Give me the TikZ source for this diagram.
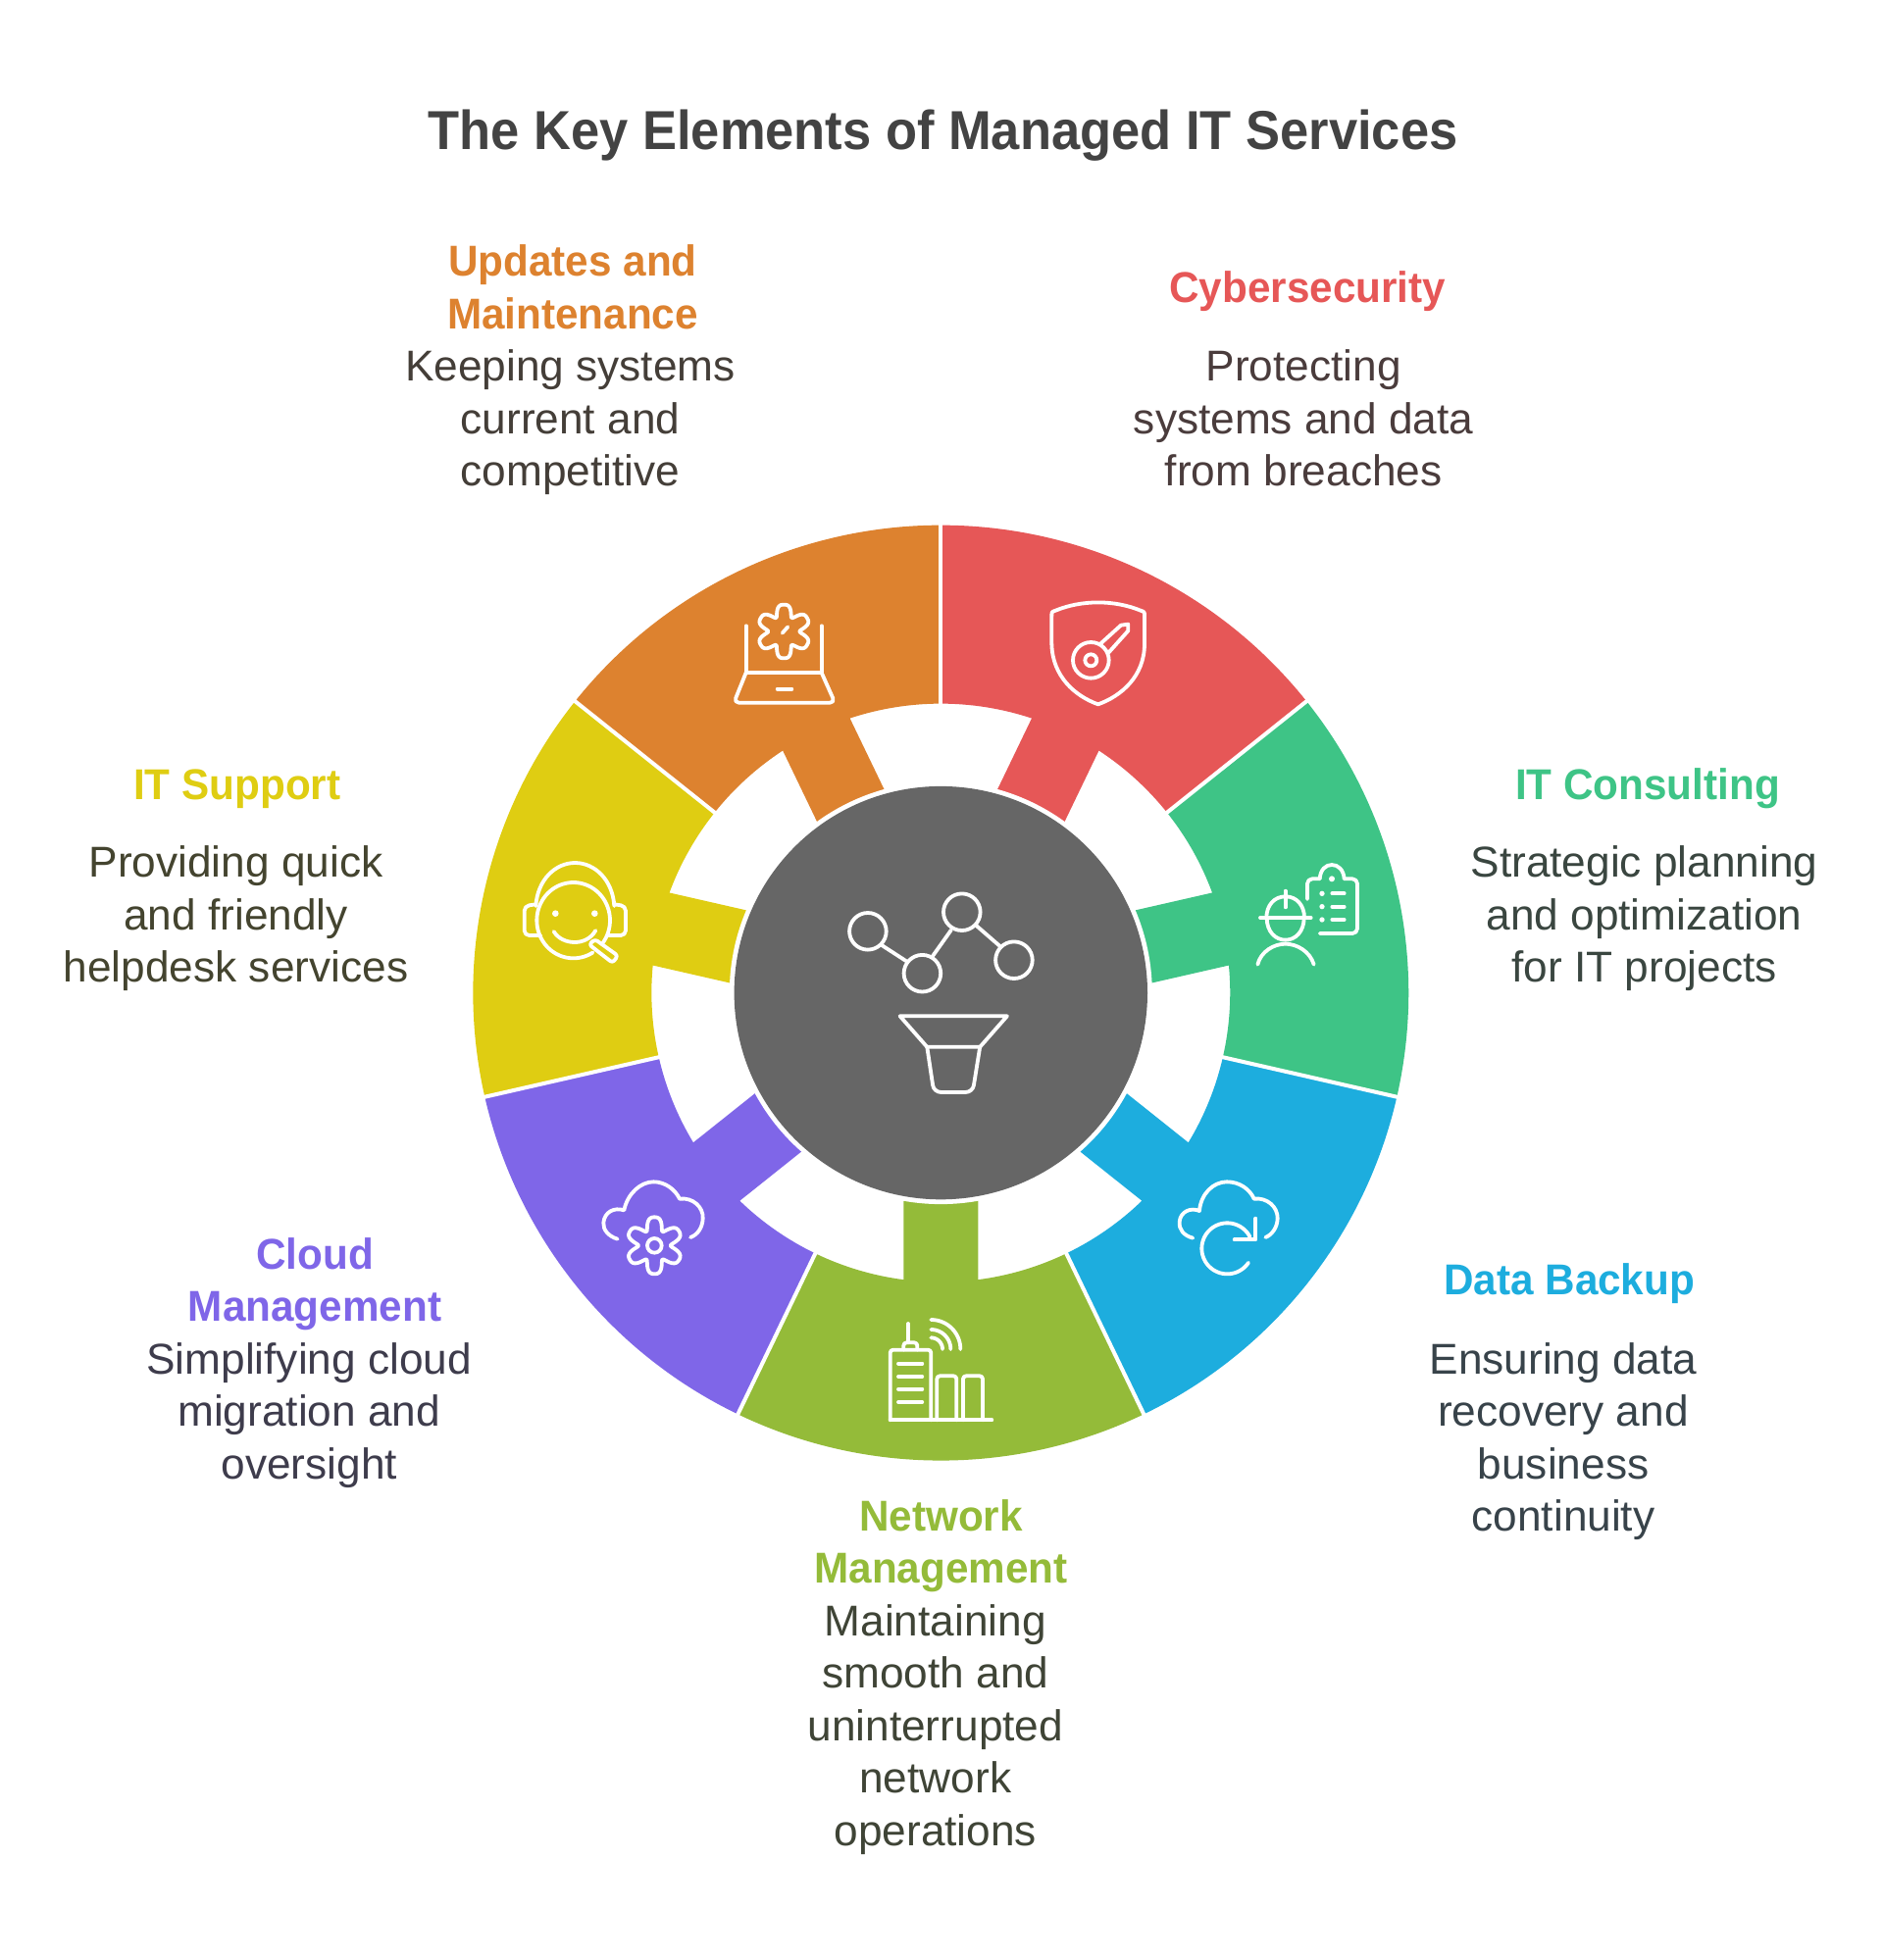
\documentclass[tikz,border=0pt]{standalone}
\usepackage{fontspec}
\setmainfont{Liberation Sans}[FakeStretch=1.005,BoldFeatures={FakeStretch=0.96}]
\newfontface\titlefont{Liberation Sans Bold}[FakeStretch=0.937]
\definecolor{cred}{HTML}{E65757}
\definecolor{cgreen}{HTML}{3EC486}
\definecolor{cblue}{HTML}{1DADDE}
\definecolor{colive}{HTML}{94BB39}
\definecolor{cpurple}{HTML}{7F66E8}
\definecolor{cyellow}{HTML}{DFCD12}
\definecolor{corange}{HTML}{DD822F}
\definecolor{cgray}{HTML}{666666}
\definecolor{ctitle}{HTML}{434343}
\definecolor{tred}{HTML}{4A3C3C}
\definecolor{tgreen}{HTML}{3A4640}
\definecolor{tblue}{HTML}{38434A}
\definecolor{tolive}{HTML}{3F4436}
\definecolor{tpurple}{HTML}{3E3C4C}
\definecolor{tyellow}{HTML}{44442F}
\definecolor{torange}{HTML}{443E38}
\newcommand{\firstline}{\rule{0pt}{40pt}}
\tikzset{
  iconline/.style={draw=white,line width=3.8pt,line cap=round,line join=round},
  iconzoom/.style={x=0.33333pt,y=-0.33333pt},
  heading/.style={anchor=north,align=center,inner sep=0pt,font=\fontsize{44}{53.5}\selectfont\bfseries},
  bodytext/.style={anchor=north,align=center,inner sep=0pt,font=\fontsize{44}{53.5}\selectfont},
}
\begin{document}
\begin{tikzpicture}[x=1pt,y=-1pt]
\useasboundingbox (0,0) rectangle (1919,1999);
\fill[white] (0,0) rectangle (1919,1999);

% title
\node[anchor=base,inner sep=0pt,text=ctitle,font=\fontsize{56}{60}\selectfont\titlefont] (title) at (961.5,152.7) {The Key Elements of Managed IT Services};

% wheel
\begin{scope}[shift={(959.3,1012.6)},y=1pt]
  \foreach \m/\c in {64.286/cred,12.857/cgreen,-38.571/cblue,-90/colive,-141.429/cpurple,-192.857/cyellow,115.714/corange}{
    \fill[\c,rotate=\m] (-25.714:477) arc[start angle=-25.714,end angle=25.714,radius=477]
      -- (25.714:295) arc[start angle=25.714,end angle=7.4,radius=295]
      -- (200,38) -- (200,-38) -- (-7.4:295)
      arc[start angle=-7.4,end angle=-25.714,radius=295] -- cycle;
  }
  \foreach \a in {90,38.571,-12.857,-64.286,-115.714,-167.143,-218.571}{
    \draw[white,line width=4pt] (\a:292) -- (\a:482);
  }
  \fill[white] (0,0) circle[radius=215.5];
  \fill[cgray] (0,0) circle[radius=210.7];
\end{scope}

% central icon
\foreach \x/\y in {884.9/949.8,940.4/992.7,980.8/930.2,1033.9/979.2}{
  \draw[iconline] (\x,\y) circle[radius=18.8];
}
\draw[iconline] (899.2,964.1) -- (923.7,980);
\draw[iconline] (951,975.1) -- (969.8,948.6);
\draw[iconline] (995.1,943.7) -- (1020.4,965.7);
\draw[iconline] (917.6,1036.3) -- (1026.9,1036.3) -- (999.2,1067.8) -- (945.3,1067.8) -- cycle;
\draw[iconline,rounded corners=7pt] (945.3,1067.8) -- (952.2,1113.9) -- (991.8,1113.9) -- (999.2,1067.8);

% orange: laptop + gear
\begin{scope}[shift={(730,600)},iconzoom]
  \draw[iconline] (92,115) -- (92,258) -- (323,258) -- (323,115);
  \draw[iconline,rounded corners=5pt] (92,258) -- (55,350) -- (364,350) -- (323,258);
  \draw[iconline] (188,308) -- (232,308);
  \draw[iconline] (203,137) -- (220,118);
  \draw[iconline] plot[domain=0:360,samples=121,smooth] ({208+(69+17*cos(6*\x)-4*cos(12*\x))*sin(\x)},{132+(69+17*cos(6*\x)-4*cos(12*\x))*cos(\x)}) -- cycle;
\end{scope}

% red: shield + key
\begin{scope}[shift={(1053,600)},iconzoom]
  \draw[iconline] (58,85) .. controls (58,72) .. (70,68) .. controls (150,35) and (250,35) .. (330,68) .. controls (342,72) .. (342,85) -- (342,170) .. controls (342,270) and (270,330) .. (200,355) .. controls (130,330) and (60,270) .. (58,170) -- cycle;
  \draw[iconline] (178,220) circle[radius=55];
  \draw[iconline] (178,220) circle[radius=18];
  \draw[iconline] (207,170) -- (270,113) -- (292,110) -- (292,130) -- (232,197);
\end{scope}

% green: clipboard + person
\begin{scope}[shift={(1269,867)},iconzoom]
  \draw[iconline,rounded corners=5pt] (192,150) -- (192,88) -- (230,88);
  \draw[iconline] (230,88) .. controls (232,60) and (248,45) .. (267,45) .. controls (286,45) and (303,60) .. (305,88);
  \draw[iconline,rounded corners=5pt] (305,88) -- (345,88) -- (345,255) -- (230,255);
  \fill[white] (267,88) circle[radius=9];
  \foreach \y in {133,173,213}{
    \fill[white] (237,\y) circle[radius=8];
    \draw[iconline] (268,\y) -- (305,\y);
  }
  \draw[iconline] (48,207) -- (203,207);
  \draw[iconline] (67,207) .. controls (67,170) and (90,142) .. (125,142) .. controls (160,142) and (183,170) .. (183,207);
  \draw[iconline] (125,125) -- (125,175);
  \draw[iconline] (68,207) .. controls (68,250) and (95,275) .. (125,275) .. controls (155,275) and (182,250) .. (182,207);
  \draw[iconline] (40,350) .. controls (50,310) and (90,287) .. (125,287) .. controls (160,287) and (200,310) .. (212,350);
\end{scope}

% blue: cloud + refresh
\begin{scope}[shift={(1187,1186)},iconzoom]
  \draw[iconline] (88,230) .. controls (60,222) and (45,205) .. (47,180) .. controls (50,150) and (80,135) .. (108,147) .. controls (112,95) and (150,58) .. (192,58) .. controls (230,58) and (262,80) .. (275,110) .. controls (315,105) and (348,135) .. (347,170) .. controls (346,198) and (330,220) .. (310,228);
  \draw[iconline] plot[domain=33.7:333,samples=60,smooth] ({193+78*cos(\x)},{262+78*sin(\x)});
  \draw[iconline] (215,235) -- (280,235) -- (280,170);
\end{scope}

% olive: building + wifi
\begin{scope}[shift={(892,1330)},iconzoom]
  \draw[iconline,rounded corners=3pt] (47,355) -- (47,140) -- (172,140) -- (172,355);
  \draw[iconline] (47,355) -- (358,355);
  \draw[iconline,rounded corners=3pt] (88,140) -- (88,118) -- (130,118) -- (130,140);
  \draw[iconline] (102,60) -- (102,118);
  \foreach \y in {182,222,260,300}{ \draw[iconline] (72,\y) -- (145,\y); }
  \draw[iconline,rounded corners=3pt] (190,355) -- (190,220) -- (250,220) -- (250,355);
  \draw[iconline,rounded corners=3pt] (270,355) -- (270,220) -- (330,220) -- (330,355);
  \foreach \r in {35,60,90}{
    \draw[iconline] plot[domain=-90:0,samples=19,smooth] ({172+\r*cos(\x)},{138+\r*sin(\x)});
  }
\end{scope}

% purple: cloud + gear
\begin{scope}[shift={(598,1186)},iconzoom]
  \draw[iconline] (95,233) .. controls (68,225) and (50,205) .. (52,183) .. controls (55,150) and (85,135) .. (115,145) .. controls (125,95) and (165,58) .. (205,58) .. controls (240,58) and (270,80) .. (285,110) .. controls (325,105) and (358,135) .. (356,170) .. controls (355,198) and (340,220) .. (318,228);
  \draw[iconline] plot[domain=0:360,samples=121,smooth] ({208+(72+19*cos(6*\x)-4*cos(12*\x))*sin(\x)},{253+(72+19*cos(6*\x)-4*cos(12*\x))*cos(\x)}) -- cycle;
  \draw[iconline] (208,253) circle[radius=22];
\end{scope}

% yellow: headset face
\begin{scope}[shift={(518,864)},iconzoom]
  \draw[iconline] (85,180) .. controls (90,100) and (145,48) .. (205,48) .. controls (265,48) and (320,100) .. (325,180);
  \draw[iconline] plot[domain=58:398,samples=70,smooth] ({200+112*cos(\x)},{224+116*sin(\x)});
  \draw[iconline,rounded corners=5pt] (85,175) -- (50,180) -- (50,270) -- (100,270);
  \draw[iconline,rounded corners=5pt] (325,175) -- (360,180) -- (360,270) -- (305,270);
  \fill[white] (145,203) circle[radius=10];
  \fill[white] (265,203) circle[radius=10];
  \draw[iconline] (140,258) .. controls (165,300) and (240,305) .. (268,255);
  \draw[iconline,rounded corners=3pt] (266,282) -- (336,332) -- (320,354) -- (248,298) -- cycle;
\end{scope}

% labels
\node[heading,text=corange] (h1) at (584,241.7) {\firstline Updates and\\Maintenance};
\node[bodytext,text=torange] (b1) at (581.5,348.7) {\firstline Keeping systems\\current and\\competitive};
\node[heading,text=cred] (h2) at (1333.2,268.5) {\firstline Cybersecurity};
\node[bodytext,text=tred] (b2) at (1329.2,348.7) {\firstline Protecting\\systems and data\\from breaches};
\node[heading,text=cgreen] (h3) at (1680,775.2) {\firstline IT Consulting};
\node[bodytext,text=tgreen] (b3) at (1676.5,854.5) {\firstline Strategic planning\\and optimization\\for IT projects};
\node[heading,text=cyellow] (h4) at (241.8,775.2) {\firstline IT Support};
\node[bodytext,text=tyellow] (b4) at (240.5,854.5) {\firstline Providing quick\\and friendly\\helpdesk services};
\node[heading,text=cblue] (h5) at (1600.2,1280.5) {\firstline Data Backup};
\node[bodytext,text=tblue] (b5) at (1594,1361.1) {\firstline Ensuring data\\recovery and\\business\\continuity};
\node[heading,text=cpurple] (h6) at (321,1254.2) {\firstline Cloud\\Management};
\node[bodytext,text=tpurple] (b6) at (315.2,1361.1) {\firstline Simplifying cloud\\migration and\\oversight};
\node[heading,text=colive] (h7) at (959.5,1521) {\firstline Network\\Management};
\node[bodytext,text=tolive] (b7) at (953.8,1628) {\firstline Maintaining\\smooth and\\uninterrupted\\network\\operations};
\end{tikzpicture}
\end{document}
